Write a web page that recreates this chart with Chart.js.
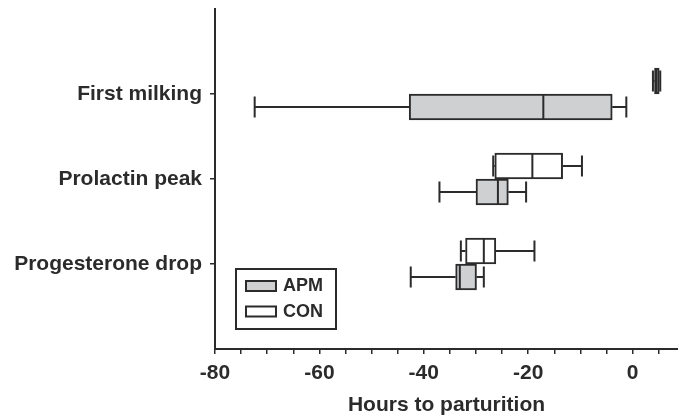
<!DOCTYPE html>
<html>
<head>
<meta charset="utf-8">
<script src="https://cdn.jsdelivr.net/npm/chart.js@4"></script>
<style>
  html, body { margin: 0; padding: 0; background: #fff; }
  #wrap { width: 678px; height: 415px; }
</style>
</head>
<body>
<div id="wrap"><canvas id="boxChart"></canvas></div>
<script>
// Categories (top to bottom)
const categories = ["First milking", "Prolactin peak", "Progesterone drop"];

// APM group: whisker min, Q1, median, Q3, whisker max (hours)
const apmMin = [-72.4, -37.0, -42.5];
const apmQ1 = [-42.8, -30.0, -33.9];
const apmMed = [-17.1, -25.8, -33.1];
const apmQ3 = [-3.9, -23.8, -29.9];
const apmMax = [-1.2, -20.4, -28.5];

// CON group
const conMin = [3.9, -26.7, -32.9];
const conQ1 = [4.2, -26.4, -32.0];
const conMed = [4.6, -19.2, -28.5];
const conQ3 = [5.1, -13.4, -26.2];
const conMax = [5.3, -9.7, -18.8];

// x axis ticks
const xTickValues = [-80, -75, -70, -65, -60, -55, -50, -45, -40, -35, -30, -25, -20, -15, -10, -5, 0, 5];
const xTickLabels = [-80, -60, -40, -20, 0];

const ink = "#2b2b2b";
const grayFill = "#cfd0d2";

Chart.defaults.font.family = "'Liberation Sans', Arial, sans-serif";
Chart.defaults.color = ink;

// pad the category list with empty slots at both ends
const yLabels = ["", ...categories, ""];
function padded(arr) { return [null, ...arr, null]; }

const boxes = [
    { min: conMin, q1: conQ1, med: conMed, q3: conQ3, max: conMax },
    { min: apmMin, q1: apmQ1, med: apmMed, q3: apmQ3, max: apmMax },
];

// whiskers, caps and medians drawn on top of the bars
const whiskerPlugin = {
    id: "whiskers",
    afterDatasetsDraw(chart) {
        const ctx = chart.ctx;
        const x = chart.scales.x;
        ctx.save();
        ctx.strokeStyle = ink;
        ctx.lineWidth = 2;
        boxes.forEach((b, di) => {
            const meta = chart.getDatasetMeta(di);
            meta.data.forEach((el, i) => {
                const k = i - 1;
                if (k < 0 || k >= categories.length) return;
                const cy = el.y;
                const h = el.height;
                const cap = h * 0.8;
                const pMin = x.getPixelForValue(b.min[k]);
                const pQ1 = x.getPixelForValue(b.q1[k]);
                const pMed = x.getPixelForValue(b.med[k]);
                const pQ3 = x.getPixelForValue(b.q3[k]);
                const pMax = x.getPixelForValue(b.max[k]);
                ctx.beginPath();
                ctx.moveTo(pMin, cy); ctx.lineTo(pQ1, cy);
                ctx.moveTo(pQ3, cy); ctx.lineTo(pMax, cy);
                ctx.moveTo(pMin, cy - cap / 2); ctx.lineTo(pMin, cy + cap / 2);
                ctx.moveTo(pMax, cy - cap / 2); ctx.lineTo(pMax, cy + cap / 2);
                ctx.moveTo(pMed, cy - h / 2 + 1); ctx.lineTo(pMed, cy + h / 2 - 1);
                ctx.stroke();
            });
        });
        ctx.restore();
    },
    afterDraw(chart) {
        // legend box in the lower-left of the plot
        const ctx = chart.ctx;
        const a = chart.chartArea;
        const lx = a.left + 21, ly = a.bottom - 80;
        ctx.save();
        ctx.strokeStyle = ink;
        ctx.lineWidth = 2;
        ctx.strokeRect(lx, ly, 100, 60);
        const items = [["APM", grayFill], ["CON", "#ffffff"]];
        ctx.font = "bold 18px 'Liberation Sans', Arial, sans-serif";
        ctx.textBaseline = "middle";
        items.forEach((it, i) => {
            const sy = ly + 12 + i * 25.5;
            ctx.fillStyle = it[1];
            ctx.fillRect(lx + 10, sy, 30, 10);
            ctx.strokeRect(lx + 10, sy, 30, 10);
            ctx.fillStyle = ink;
            ctx.fillText(it[0], lx + 47, sy + 5.5);
        });
        ctx.restore();
    },
};

const ctx = document.getElementById("boxChart").getContext("2d");
new Chart(ctx, {
    type: "bar",
    data: {
        labels: yLabels,
        datasets: [
            {
                label: "CON",
                data: padded(conQ1.map((v, i) => [v, conQ3[i]])),
                backgroundColor: "#ffffff",
                borderColor: ink,
                borderWidth: 2,
                borderSkipped: false,
                barThickness: 26,
            },
            {
                label: "APM",
                data: padded(apmQ1.map((v, i) => [v, apmQ3[i]])),
                backgroundColor: grayFill,
                borderColor: ink,
                borderWidth: 2,
                borderSkipped: false,
                barThickness: 26,
            },
        ],
    },
    options: {
        indexAxis: "y",
        responsive: true,
        maintainAspectRatio: false,
        animation: false,
        layout: { padding: { top: 9, right: 0, left: 0, bottom: 0 } },
        plugins: {
            legend: { display: false },
            tooltip: { enabled: false },
        },
        scales: {
            x: {
                type: "linear",
                min: -80,
                max: 8.7,
                afterBuildTicks: (axis) => {
                    axis.ticks = xTickValues.map((v) => ({ value: v }));
                },
                afterFit: (axis) => { axis.height = 66; axis.paddingLeft = 0; axis.paddingRight = 0; },
                ticks: {
                    autoSkip: false,
                    maxRotation: 0,
                    padding: 7,
                    font: { size: 21, weight: "bold" },
                    callback: (v) => (xTickLabels.includes(v) ? String(v) : ""),
                },
                grid: { drawOnChartArea: false, drawTicks: true, tickLength: 5, tickColor: ink, lineWidth: 1.5 },
                border: { color: ink, width: 2 },
                title: {
                    display: true,
                    text: "Hours to parturition",
                    font: { size: 21, weight: "bold" },
                    padding: { top: 0, bottom: -3 },
                },
            },
            y: {
                type: "category",
                offset: false,
                afterBuildTicks: (axis) => {
                    axis.ticks = axis.ticks.filter((t) => t.value >= 1 && t.value <= categories.length);
                },
                afterFit: (axis) => { axis.width = 215; axis.paddingTop = 0; axis.paddingBottom = 0; },
                ticks: {
                    autoSkip: false,
                    padding: 8,
                    font: { size: 21, weight: "bold" },
                },
                grid: { drawOnChartArea: false, drawTicks: true, tickLength: 5, tickColor: ink, lineWidth: 1.5, offset: false },
                border: { color: ink, width: 2 },
            },
        },
    },
    plugins: [whiskerPlugin],
});
</script>
</body>
</html>
